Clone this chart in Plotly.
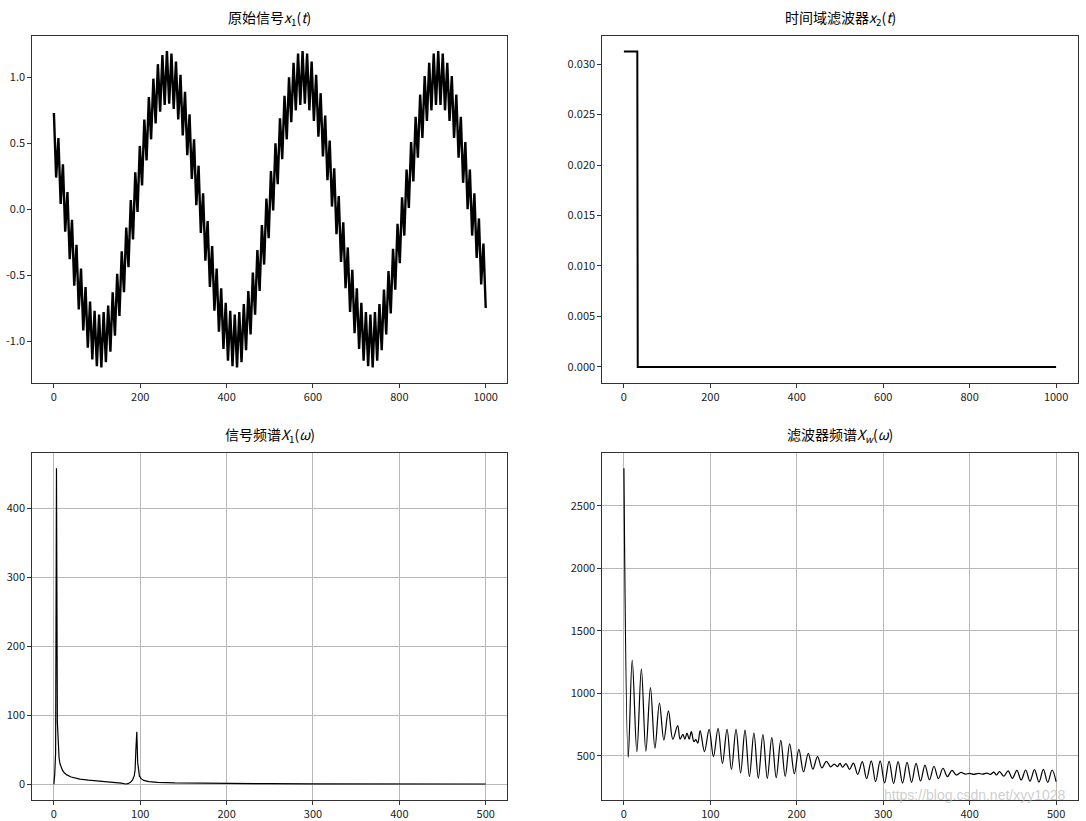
import plotly.graph_objects as go

# ---------------- data ----------------
# original signal x1(t): successive extrema of the fast ripple, evenly spaced over t = 0..1000
x1_extrema = [
    0.73, 0.24, 0.54, 0.04, 0.34, -0.17, 0.13, -0.38, -0.08, -0.58,
    -0.27, -0.76, -0.45, -0.92, -0.59, -1.05, -0.70, -1.14, -0.77, -1.19,
    -0.80, -1.20, -0.78, -1.16, -0.73, -1.08, -0.63, -0.96, -0.49, -0.81,
    -0.32, -0.63, -0.14, -0.44, 0.07, -0.23, 0.28, -0.02, 0.48, 0.18,
    0.68, 0.37, 0.85, 0.53, 0.99, 0.65, 1.10, 0.74, 1.17, 0.79,
    1.20, 0.80, 1.18, 0.76, 1.12, 0.68, 1.02, 0.56, 0.89, 0.41,
    0.72, 0.23, 0.53, 0.03, 0.33, -0.18, 0.12, -0.39, -0.09, -0.59,
    -0.28, -0.77, -0.45, -0.93, -0.60, -1.06, -0.71, -1.15, -0.77, -1.19,
    -0.80, -1.20, -0.78, -1.16, -0.72, -1.07, -0.62, -0.95, -0.48, -0.80,
    -0.31, -0.62, -0.12, -0.42, 0.08, -0.22, 0.29, -0.01, 0.50, 0.19,
    0.69, 0.38, 0.86, 0.53, 1.00, 0.66, 1.11, 0.75, 1.18, 0.79,
    1.20, 0.80, 1.18, 0.75, 1.12, 0.67, 1.02, 0.55, 0.88, 0.40,
    0.71, 0.22, 0.52, 0.02, 0.31, -0.19, 0.10, -0.40, -0.10, -0.60,
    -0.29, -0.78, -0.46, -0.94, -0.60, -1.06, -0.71, -1.15, -0.78, -1.19,
    -0.80, -1.20, -0.78, -1.15, -0.72, -1.07, -0.61, -0.95, -0.47, -0.79,
    -0.30, -0.61, -0.11, -0.41, 0.09, -0.20, 0.30, 0.01, 0.51, 0.21,
    0.70, 0.39, 0.87, 0.54, 1.01, 0.67, 1.11, 0.75, 1.18, 0.79,
    1.20, 0.79, 1.18, 0.75, 1.11, 0.67, 1.01, 0.54, 0.87, 0.39,
    0.70, 0.20, 0.51, 0.00, 0.30, -0.20, 0.12, -0.37, -0.07, -0.57,
    -0.26, -0.75,
]
x1_t_start = 0
x1_t_end = 1000

# time-domain filter x2(t)
x2_t = [0, 31, 32, 1000]
x2_val = [0.03125, 0.03125, 0.0, 0.0]

# signal spectrum X1(w)
spec1_freq = [0, 1, 2, 3, 4, 5, 6, 7, 8, 10, 12, 15, 20, 25, 30, 40, 50, 60, 70, 78,
              83, 86, 89, 91, 93, 94, 95, 96, 97, 98, 99, 101, 104, 110, 120, 140,
              170, 200, 250, 300, 350, 400, 450, 500]
spec1_mag = [0, 15, 45, 458, 90, 50, 38, 30, 26, 20, 16.5, 13.5, 10.5, 8.8, 7.5, 5.8,
             4.8, 3.8, 2.8, 1.5, 0.3, 0.8, 3, 6, 12, 20, 52, 76, 32, 17, 12, 8, 5.5,
             3.8, 2.6, 1.8, 1.3, 1.0, 0.8, 0.6, 0.5, 0.4, 0.35, 0.3]

# filter spectrum Xw(w)
specw_freq = [0, 5, 9.6, 15, 20.2, 25.4, 30.7, 35.9, 41.1, 46.2, 51.5, 56.6, 62.2, 65,
              68.2, 70.5, 73, 75.5, 78, 81, 83.2, 85.5, 88.2, 93.2, 98.6, 103.6, 108.9,
              114, 119.3, 124.4, 129.7, 135, 140.1, 145.2, 150.4, 155.5, 160.8, 165.9,
              171.1, 176.2, 181.5, 186.6, 191.8, 197.2, 202.4, 207.8, 213.3, 218.6, 224,
              229, 234.3, 239.2, 243.3, 247, 250, 253, 257, 261, 265.5, 270.5, 275.8,
              280.8, 286.2, 291.2, 296.5, 301.6, 306.8, 312, 317.2, 322.4, 327.6, 332.8,
              338, 343.2, 348.3, 353.5, 358.7, 363.9, 369.1, 374.3, 379.5, 384.7, 389.9,
              395, 400, 405, 410, 415, 420, 424, 428, 431, 434.6, 439.5, 444.5, 449.5,
              454.6, 459.6, 464.8, 469.8, 475, 480.2, 485.3, 490.3, 495.4, 500]
specw_mag = [2800, 487, 1265, 532, 1195, 535, 1045, 560, 920, 625, 858, 632, 740, 632,
             671, 632, 680, 632, 692, 612, 628, 600, 700, 532, 711, 492, 718,
             439, 711, 389, 711, 362, 704, 332, 680, 320, 668, 318,
             645, 324, 622, 333, 595, 355, 551, 370, 519, 392, 492,
             402, 455, 410, 433, 412, 439, 407, 437, 390, 440, 350, 452,
             315, 458, 292, 458, 282, 455, 276, 452, 280, 447, 286,
             439, 297, 425, 307, 415, 316, 399, 332, 382, 345, 366,
             352, 358, 350, 358, 352, 360, 350, 368, 345, 372, 335, 378, 318,
             382, 305, 385, 295, 388, 288, 390, 285, 385, 292]

# tick labels
top_x_ticks = [0, 200, 400, 600, 800, 1000]
x1_y_ticks = [-1.0, -0.5, 0.0, 0.5, 1.0]
x1_y_labels = ["-1.0", "-0.5", "0.0", "0.5", "1.0"]
x2_y_ticks = [0.0, 0.005, 0.010, 0.015, 0.020, 0.025, 0.030]
x2_y_labels = ["0.000", "0.005", "0.010", "0.015", "0.020", "0.025", "0.030"]
bottom_x_ticks = [0, 100, 200, 300, 400, 500]
spec1_y_ticks = [0, 100, 200, 300, 400]
specw_y_ticks = [500, 1000, 1500, 2000, 2500]

titles = [
    "原始信号<i>x</i><sub>1</sub>(<i>t</i>)",
    "时间域滤波器<i>x</i><sub>2</sub>(<i>t</i>)",
    "信号频谱<i>X</i><sub>1</sub>(<i>ω</i>)",
    "滤波器频谱<i>X<sub>w</sub></i>(<i>ω</i>)",
]
watermark = "https://blog.csdn.net/xyy1028"

# ---------------- layout geometry ----------------
W, H = 1086, 821
FONT = "Noto Sans CJK SC, Noto Sans, DejaVu Sans, sans-serif"
dom_x_left = [32.3 / W, 507.3 / W]
dom_x_right = [602.3 / W, 1077.7 / W]
dom_y_top = [1 - 382.7 / H, 1 - 35.7 / H]
dom_y_bot = [1 - 800.0 / H, 1 - 452.5 / H]

fig = go.Figure()

n_ext = len(x1_extrema)
fig.add_trace(go.Scatter(
    y=x1_extrema, x0=x1_t_start, dx=(x1_t_end - x1_t_start) / (n_ext - 1),
    mode="lines", line=dict(color="black", width=2.4), xaxis="x", yaxis="y",
    hoverinfo="skip"))
fig.add_trace(go.Scatter(
    x=x2_t, y=x2_val, mode="lines", line=dict(color="black", width=2),
    xaxis="x2", yaxis="y2", hoverinfo="skip"))
fig.add_trace(go.Scatter(
    x=spec1_freq, y=spec1_mag, mode="lines", line=dict(color="black", width=1.2),
    xaxis="x3", yaxis="y3", hoverinfo="skip"))
fig.add_trace(go.Scatter(
    x=specw_freq, y=specw_mag, mode="lines", line=dict(color="black", width=1.2),
    line_shape="spline", xaxis="x4", yaxis="y4", hoverinfo="skip"))

axis_common = dict(
    showline=True, mirror=True, linecolor="#333333", linewidth=1,
    ticks="outside", ticklen=4, tickwidth=1, tickcolor="#333333",
    zeroline=False, tickfont=dict(family=FONT, size=11, color="#222222"),
)
grid_on = dict(showgrid=True, gridcolor="#b8b8b8", gridwidth=0.8)
grid_off = dict(showgrid=False)

fig.update_layout(
    width=W, height=H, autosize=False,
    margin=dict(l=0, r=0, t=0, b=0),
    paper_bgcolor="white", plot_bgcolor="white",
    showlegend=False,
    xaxis=dict(domain=dom_x_left, anchor="y", range=[-50, 1050],
               tickvals=top_x_ticks, **axis_common, **grid_off),
    yaxis=dict(domain=dom_y_top, anchor="x", range=[-1.316, 1.316],
               tickvals=x1_y_ticks, ticktext=x1_y_labels, **axis_common, **grid_off),
    xaxis2=dict(domain=dom_x_right, anchor="y2", range=[-50, 1050],
                tickvals=top_x_ticks, **axis_common, **grid_off),
    yaxis2=dict(domain=dom_y_top, anchor="x2", range=[-0.0015625, 0.0328125],
                tickvals=x2_y_ticks, ticktext=x2_y_labels, **axis_common, **grid_off),
    xaxis3=dict(domain=dom_x_left, anchor="y3", range=[-25, 525],
                tickvals=bottom_x_ticks, **axis_common, **grid_on),
    yaxis3=dict(domain=dom_y_bot, anchor="x3", range=[-22.9, 481],
                tickvals=spec1_y_ticks, **axis_common, **grid_on),
    xaxis4=dict(domain=dom_x_right, anchor="y4", range=[-25, 525],
                tickvals=bottom_x_ticks, **axis_common, **grid_on),
    yaxis4=dict(domain=dom_y_bot, anchor="x4", range=[145, 2927],
                tickvals=specw_y_ticks, **axis_common, **grid_on),
)

title_pos = [
    (sum(dom_x_left) / 2, dom_y_top[1]),
    (sum(dom_x_right) / 2, dom_y_top[1]),
    (sum(dom_x_left) / 2, dom_y_bot[1]),
    (sum(dom_x_right) / 2, dom_y_bot[1]),
]
for text, (cx, top) in zip(titles, title_pos):
    fig.add_annotation(
        text=text, xref="paper", yref="paper", x=cx, y=top + 5 / H,
        xanchor="center", yanchor="bottom", showarrow=False,
        font=dict(family=FONT, size=14, color="black"))

fig.add_annotation(
    text=watermark, xref="paper", yref="paper", x=975 / W, y=1 - 795 / H,
    xanchor="center", yanchor="middle", showarrow=False,
    font=dict(family="Liberation Sans, Arial, sans-serif", size=14,
              color="rgba(190,190,190,0.75)"))

fig.write_html("out.html", config={"displayModeBar": False})
